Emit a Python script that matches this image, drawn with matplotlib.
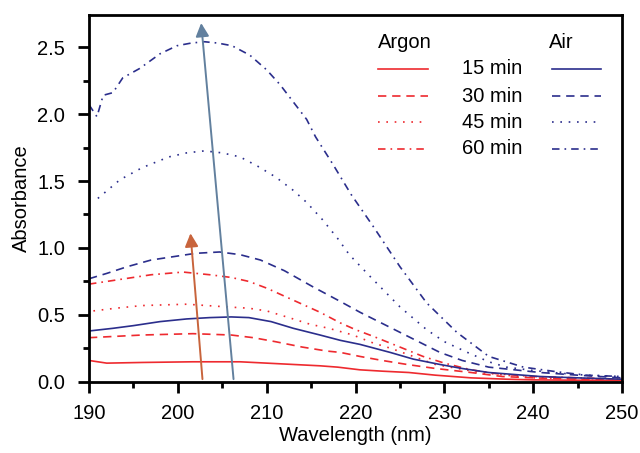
import numpy as np
import matplotlib.pyplot as plt
from matplotlib.lines import Line2D

plt.rcParams['font.family'] = ['Liberation Sans', 'DejaVu Sans']

# absorbance, per wavelength (nm)
air60_x = [190, 190.9, 191.6, 192.7, 193.8, 195.7, 198, 199.9, 201.5, 203, 204.5, 206.1, 208.1, 210,
           211.5, 213, 214.5, 215.5, 217.5, 219.5, 222, 225, 228, 231.4, 235, 238.9, 242.7, 246, 250]
air60_y = [2.07, 1.98, 2.14, 2.16, 2.27, 2.34, 2.45, 2.51, 2.53, 2.54, 2.53, 2.51, 2.44, 2.33,
           2.22, 2.09, 1.96, 1.83, 1.62, 1.40, 1.16, 0.86, 0.59, 0.37, 0.19, 0.11, 0.075, 0.05, 0.04]

air45_x = [191, 193.5, 196, 199, 201, 203, 205, 207, 209, 211, 213, 214.5, 216.3, 218, 219.3, 221.6,
           225, 228, 230, 232.6, 235, 237, 240, 243, 246, 250]
air45_y = [1.37, 1.51, 1.60, 1.68, 1.71, 1.725, 1.71, 1.68, 1.61, 1.53, 1.43, 1.34, 1.21, 1.07, 0.95,
           0.79, 0.56, 0.39, 0.30, 0.22, 0.15, 0.11, 0.085, 0.065, 0.05, 0.04]

air30_x = [190, 192, 194.3, 197, 199, 202, 204.7, 207, 209.3, 212, 215.2, 218.3, 220.5, 222, 225,
           229.5, 232, 235, 240.8, 245, 250]
air30_y = [0.77, 0.81, 0.86, 0.91, 0.93, 0.96, 0.97, 0.95, 0.91, 0.83, 0.71, 0.60, 0.52, 0.47, 0.37,
           0.22, 0.16, 0.11, 0.07, 0.05, 0.03]

air15_x = [190, 192.7, 195, 198, 201, 203.6, 206, 208, 210.5, 213, 216, 218.3, 220.5, 223.9, 226.5,
           229.5, 232, 235, 240.8, 245, 250]
air15_y = [0.38, 0.40, 0.42, 0.45, 0.47, 0.48, 0.485, 0.48, 0.45, 0.40, 0.35, 0.31, 0.28, 0.22, 0.17,
           0.13, 0.10, 0.07, 0.04, 0.03, 0.02]

ar60_x = [190, 194, 197, 200.6, 203.6, 206, 208, 210, 213, 216, 218.3, 220, 222, 225, 227.6, 230,
          233, 236, 240, 245, 250]
ar60_y = [0.73, 0.77, 0.80, 0.82, 0.80, 0.78, 0.75, 0.70, 0.61, 0.52, 0.44, 0.39, 0.34, 0.26, 0.19,
          0.14, 0.09, 0.06, 0.04, 0.03, 0.02]

ar45_x = [190.5, 193, 196, 201, 205.5, 208, 210, 212.5, 214.9, 217, 219.7, 222, 224, 226.5, 229,
          231.5, 234, 237, 240, 250]
ar45_y = [0.53, 0.55, 0.57, 0.58, 0.56, 0.55, 0.53, 0.48, 0.43, 0.40, 0.35, 0.29, 0.25, 0.19, 0.13,
          0.10, 0.07, 0.05, 0.03, 0.02]

ar30_x = [190, 193, 196, 201.7, 206, 208.5, 211, 214, 216.8, 218.3, 220.5, 223, 225.8, 229, 233,
          236.5, 240, 245, 250]
ar30_y = [0.33, 0.34, 0.35, 0.36, 0.35, 0.33, 0.30, 0.26, 0.23, 0.22, 0.19, 0.16, 0.13, 0.10, 0.07,
          0.04, 0.03, 0.02, 0.01]

ar15_x = [190, 191, 192, 196, 201.7, 207, 210, 213, 216, 218, 220.5, 223, 226, 229, 233, 237, 240, 250]
ar15_y = [0.16, 0.15, 0.14, 0.145, 0.15, 0.15, 0.14, 0.13, 0.12, 0.11, 0.09, 0.08, 0.07, 0.05, 0.03,
          0.02, 0.015, 0.01]

times = ["15 min", "30 min", "45 min", "60 min"]

red = "#ee2a2f"
blue = "#2b2e8c"
styles = ["-", (0, (5, 3.5)), (0, (1, 4)), (0, (4.5, 3, 1, 3))]

fig = plt.figure(figsize=(6.4, 4.53), dpi=100)
ax = fig.add_axes([0.139, 0.157, 0.833, 0.81])

argon = [(ar15_x, ar15_y), (ar30_x, ar30_y), (ar45_x, ar45_y), (ar60_x, ar60_y)]
air = [(air15_x, air15_y), (air30_x, air30_y), (air45_x, air45_y), (air60_x, air60_y)]
for (x, y), ls in zip(argon, styles):
    ax.plot(x, y, color=red, lw=1.2, linestyle=ls)
for (x, y), ls in zip(air, styles):
    ax.plot(x, y, color=blue, lw=1.2, linestyle=ls)

# trend arrows
ax.annotate("", xy=(201.4, 1.13), xytext=(202.8, 0.0),
            arrowprops=dict(arrowstyle="-|>", color="#c8643c", lw=1.4, mutation_scale=20))
ax.annotate("", xy=(202.6, 2.70), xytext=(206.3, 0.0),
            arrowprops=dict(arrowstyle="-|>", color="#62809e", lw=1.4, mutation_scale=20))

# hand-built legend
tr = ax.transAxes
fs = 14.5
ax.text(0.542, 0.924, "Argon", transform=tr, fontsize=fs, va="center")
ax.text(0.863, 0.924, "Air", transform=tr, fontsize=fs, va="center")
rows = [0.853, 0.779, 0.708, 0.635]
for t, ls, yy in zip(times, styles, rows):
    ax.add_line(Line2D([0.542, 0.636], [yy, yy], transform=tr, color=red, lw=1.2, linestyle=ls))
    ax.add_line(Line2D([0.869, 0.96], [yy, yy], transform=tr, color=blue, lw=1.2, linestyle=ls))
    ax.text(0.70, yy, t, transform=tr, fontsize=fs, va="center")

ax.set_xlim(190, 250)
ax.set_ylim(0, 2.74)
ax.set_xticks([190, 200, 210, 220, 230, 240, 250])
ax.set_xticks(np.arange(195, 250, 10), minor=True)
ax.set_yticks([0, 0.5, 1.0, 1.5, 2.0, 2.5])
ax.set_yticks([0.25, 0.75, 1.25, 1.75, 2.25], minor=True)
ax.set_yticklabels(["0.0", "0.5", "1.0", "1.5", "2.0", "2.5"])
ax.tick_params(axis="both", which="major", direction="out", length=8, width=2, labelsize=fs)
ax.tick_params(axis="x", which="major", pad=8)
ax.tick_params(axis="y", which="major", pad=9)
ax.tick_params(axis="both", which="minor", direction="out", length=4.5, width=2)
for s in ax.spines.values():
    s.set_linewidth(2)

ax.set_xlabel("Wavelength (nm)", fontsize=fs, labelpad=2)
ax.set_ylabel("Absorbance", fontsize=fs, labelpad=5)

fig.savefig("out.png", dpi=100)
